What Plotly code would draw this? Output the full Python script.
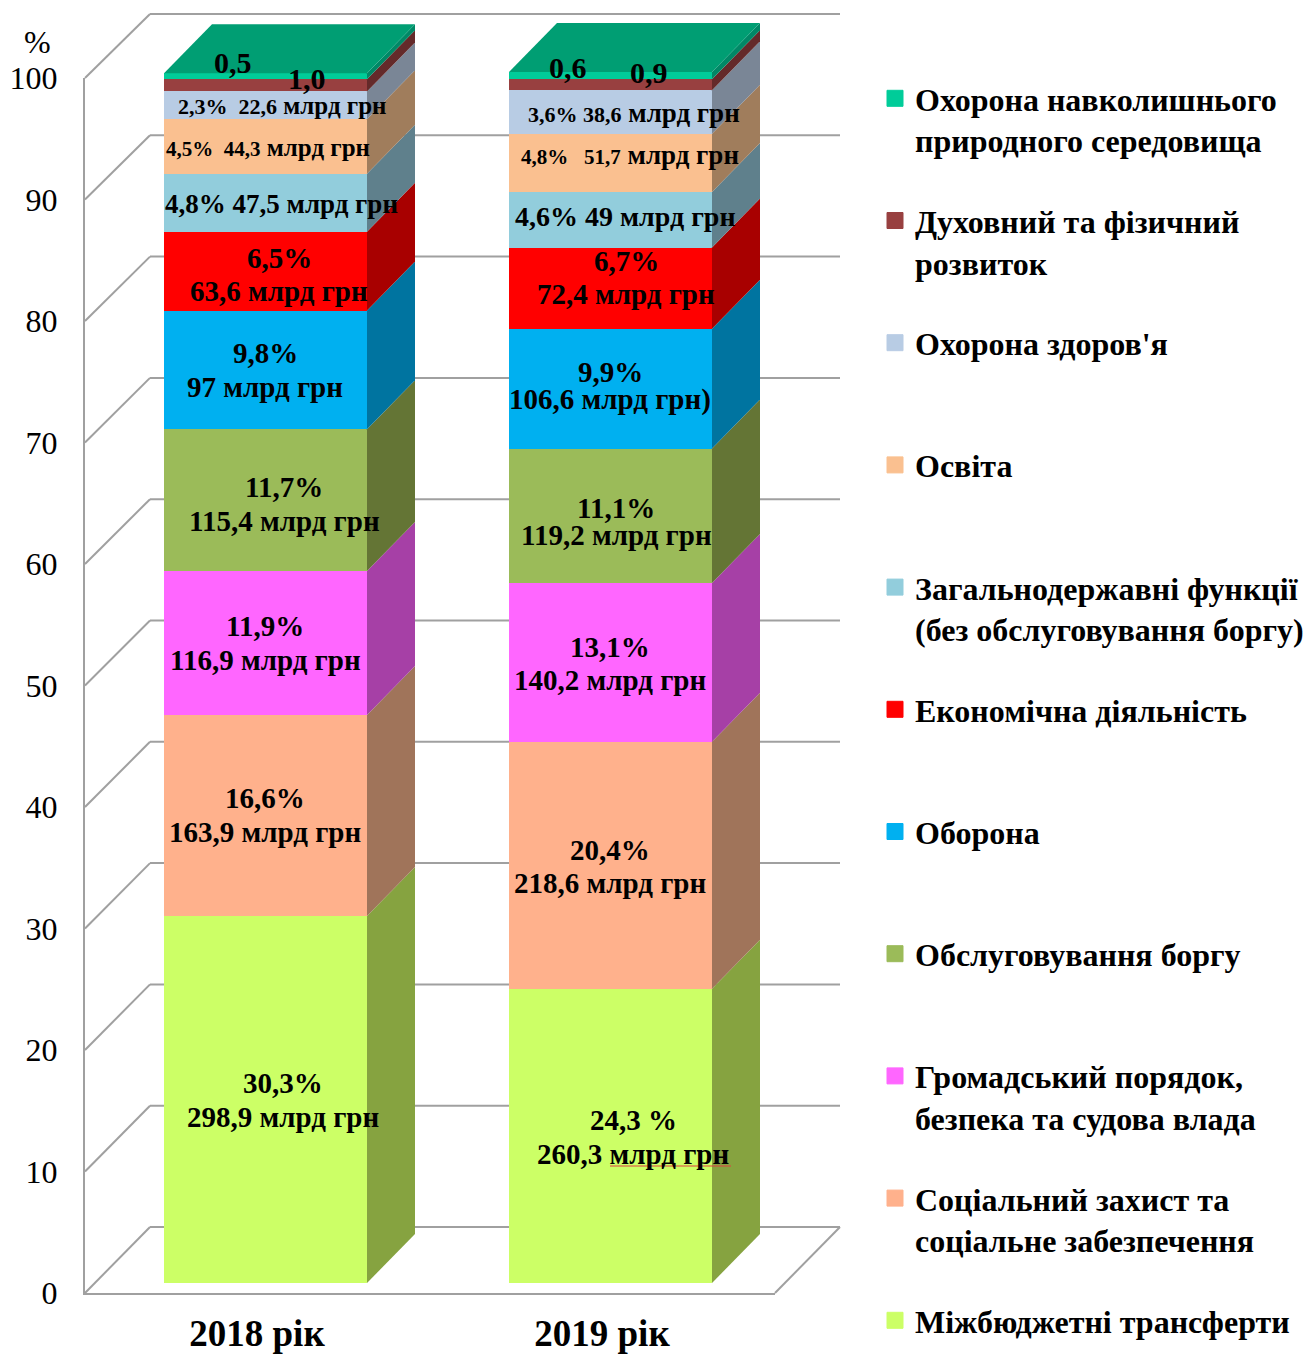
import plotly.graph_objects as go

# ---------- data ----------
years = ["2018 рік", "2019 рік"]
series_names = [
    "Міжбюджетні трансферти<br> ",
    "Соціальний захист та<br>соціальне забезпечення",
    "Громадський порядок,<br>безпека та судова влада",
    "Обслуговування боргу<br> ",
    "Оборона<br> ",
    "Економічна діяльність<br> ",
    "Загальнодержавні функції<br>(без обслуговування боргу)",
    "Освіта<br> ",
    "Охорона здоров'я<br> ",
    "Духовний та фізичний<br>розвиток",
    "Охорона навколишнього<br>природного середовища",
]
values_2018 = [30.3, 16.6, 11.9, 11.7, 9.8, 6.5, 4.8, 4.5, 2.3, 1.0, 0.5]
values_2019 = [24.3, 20.4, 13.1, 11.1, 9.9, 6.7, 4.6, 4.8, 3.6, 0.9, 0.6]
front_colors = ["#CCFF66", "#FFB18C", "#FF66FF", "#9BBB59", "#00B0F0", "#FF0000",
                "#92CDDC", "#FAC090", "#B8CCE4", "#984040", "#00CC99"]
side_colors = ["#86A340", "#A0745A", "#A640A6", "#647535", "#0074A0", "#A80000",
               "#5F808C", "#A07D5C", "#7A8696", "#642A2A", "#008866"]
top_color = "#009E73"
tick_values = list(range(0, 101, 10))

SM = '<span style="font-size:21px">%s</span>'
SM2 = '<span style="font-size:22px">%s</span>'
labels_2018 = [
    ("30,3%", 283, 1083, 29), ("298,9 млрд грн", 283, 1117, 29),
    ("16,6%", 265, 798, 29), ("163,9 млрд грн", 265, 832, 29),
    ("11,9%", 265, 626, 29), ("116,9 млрд грн", 265, 660, 29),
    ("11,7%", 284, 487, 29), ("115,4 млрд грн", 284, 521, 29),
    ("9,8%", 265, 353, 29), ("97 млрд грн", 265, 387, 29),
    ("6,5%", 279, 258, 29), ("63,6 млрд грн", 279, 291, 29),
    ("4,8% 47,5 млрд грн", 281, 204, 27),
    (SM % "4,5%  44,3" + " млрд грн", 268, 147, 25),
    (SM2 % "2,3%  22,6" + " млрд грн", 282, 105, 25),
    ("1,0", 307, 78, 30), ("0,5", 233, 62, 30),
]
labels_2019 = [
    ("24,3 %", 633, 1120, 29), ("260,3 млрд грн", 633, 1154, 29),
    ("20,4%", 610, 850, 29), ("218,6 млрд грн", 610, 883, 29),
    ("13,1%", 610, 647, 29), ("140,2 млрд грн", 610, 680, 29),
    ("11,1%", 616, 508, 29), ("119,2 млрд грн", 616, 535, 29),
    ("9,9%", 610, 372, 29), ("106,6 млрд грн)", 610, 399, 29),
    ("6,7%", 626, 261, 29), ("72,4 млрд грн", 626, 294, 29),
    ("4,6% 49 млрд грн", 625, 216, 28),
    (SM % "4,8%   51,7" + " млрд грн", 630, 155, 27),
    (SM2 % "3,6% 38,6" + " млрд грн", 634, 113, 27),
    ("0,9", 649, 72, 30), ("0,6", 568, 67, 30),
]

# ---------- layout geometry (page pixels) ----------
W, H = 1305, 1355
BAR0_PX, PX_PER_CAT = 265.5, 345.0
BASE_PX, PX_PER_PCT = 1283.0, 12.11
BAR_W_PX = 203.0
DEPTH_X, DEPTH_Y = 48.0, 49.0
FONT = "Liberation Serif"

def fx(px):
    return (px - BAR0_PX) / PX_PER_CAT

def fy(py):
    return (BASE_PX - py) / PX_PER_PCT

half = BAR_W_PX / PX_PER_CAT / 2
dx = DEPTH_X / PX_PER_CAT
dy = DEPTH_Y / PX_PER_PCT

fig = go.Figure()

# stacked front faces
for i, name in enumerate(series_names):
    fig.add_trace(go.Bar(
        x=[0, 1], y=[values_2018[i], values_2019[i]],
        width=BAR_W_PX / PX_PER_CAT, name=name.replace("<br> ", ""), showlegend=False,
        marker=dict(color=front_colors[i], line=dict(width=0)),
        hoverinfo="y+name",
    ))

# side and top faces, derived from the cumulative values
for pos, vals in enumerate([values_2018, values_2019]):
    cum = 0.0
    r = pos + half
    for i, v in enumerate(vals):
        a, b = cum, cum + v
        fig.add_trace(go.Scatter(
            x=[r, r + dx, r + dx, r, r], y=[a, a + dy, b + dy, b, a],
            mode="lines", fill="toself", fillcolor=side_colors[i],
            line=dict(width=0), showlegend=False, hoverinfo="skip",
        ))
        cum = b
    fig.add_trace(go.Scatter(
        x=[pos - half, pos + half, r + dx, pos - half + dx, pos - half],
        y=[cum, cum, cum + dy, cum + dy, cum],
        mode="lines", fill="toself", fillcolor=top_color,
        line=dict(width=0), showlegend=False, hoverinfo="skip",
    ))

# legend entries (square swatches), top series first
for i in reversed(range(len(series_names))):
    fig.add_trace(go.Scatter(
        x=[None], y=[None], mode="markers", name=series_names[i], legendgroup=series_names[i],
        marker=dict(symbol="square", size=16, color=front_colors[i],
                    line=dict(color=front_colors[i], width=1)),
        hoverinfo="skip",
    ))

# invisible trace that brings the front axes (x2/y2) to life
fig.add_trace(go.Scatter(x=[0, 1], y=[0, 100], xaxis="x2", yaxis="y2", mode="markers",
                         marker=dict(opacity=0), showlegend=False, hoverinfo="skip"))

# walls
GRID = "#A0A0A0"
AXIS_L, AXIS_R, AXIS_B, AXIS_T = 85.0, 775.0, 1293.0, 78.0
WALL_L, WALL_R, WALL_B, WALL_T = 150.0, 840.0, 1227.0, 14.0
shapes = []
for t in tick_values:
    y_front = AXIS_B + (AXIS_T - AXIS_B) * t / 100
    y_back = WALL_B + (WALL_T - WALL_B) * t / 100
    for (x0, y0, x1, y1) in [(AXIS_L, y_front, WALL_L, y_back), (WALL_L, y_back, WALL_R, y_back)]:
        shapes.append(dict(type="line", xref="x", yref="y", layer="below",
                           x0=fx(x0), y0=fy(y0), x1=fx(x1), y1=fy(y1),
                           line=dict(color=GRID, width=2)))
shapes.append(dict(type="line", xref="x", yref="y", layer="below",
                   x0=fx(AXIS_R), y0=fy(AXIS_B), x1=fx(WALL_R), y1=fy(WALL_B),
                   line=dict(color=GRID, width=2)))
shapes.append(dict(type="line", xref="x", yref="y", layer="above",
                   x0=fx(610), y0=fy(1166), x1=fx(731), y1=fy(1166),
                   line=dict(color="#E04040", width=1)))

annotations = []
for text, px, py, size in labels_2018 + labels_2019:
    annotations.append(dict(text="<b>%s</b>" % text, x=fx(px), y=fy(py), xref="x", yref="y",
                            showarrow=False, xanchor="center", yanchor="middle",
                            font=dict(family=FONT, size=size, color="black")))
annotations.append(dict(text="%", x=37 / W, y=1 - 42 / H, xref="paper", yref="paper",
                        xanchor="center", yanchor="middle",
                        showarrow=False, font=dict(family=FONT, size=32, color="black")))

ax_x0 = (BAR0_PX - 8.5 - AXIS_L) / PX_PER_CAT

fig.update_layout(
    width=W, height=H, autosize=False,
    margin=dict(l=0, r=0, t=0, b=0, autoexpand=False),
    paper_bgcolor="white", plot_bgcolor="rgba(0,0,0,0)",
    barmode="stack", bargap=0,
    font=dict(family=FONT, color="black"),
    shapes=shapes, annotations=annotations,
    xaxis=dict(domain=[0, 1], range=[fx(0), fx(W)], visible=False, fixedrange=True),
    yaxis=dict(domain=[0, 1], range=[fy(H), fy(0)], visible=False, fixedrange=True),
    xaxis2=dict(domain=[AXIS_L / W, AXIS_R / W], anchor="y2",
                range=[-ax_x0, (AXIS_R - AXIS_L) / PX_PER_CAT - ax_x0],
                tickvals=[0, 1], ticktext=["<b>%s</b>" % y for y in years],
                tickfont=dict(family=FONT, size=37, color="black"),
                ticklabelstandoff=7,
                showgrid=False, zeroline=False, showline=True, linecolor=GRID, linewidth=2,
                ticks="", fixedrange=True),
    yaxis2=dict(domain=[1 - AXIS_B / H, 1 - AXIS_T / H], anchor="x2", range=[0, 100],
                tickvals=tick_values, tickfont=dict(family=FONT, size=32, color="black"),
                ticklabelstandoff=19,
                showgrid=False, zeroline=False, showline=True, linecolor=GRID, linewidth=2,
                ticks="", fixedrange=True),
    legend=dict(x=875 / W, y=1 - 71 / H, xanchor="left", yanchor="top",
                traceorder="grouped", tracegroupgap=36, itemsizing="trace", valign="top",
                maxheight=1340,
                font=dict(family=FONT, size=32, color="black", weight="bold"),
                bgcolor="rgba(0,0,0,0)", itemclick=False, itemdoubleclick=False),
    hovermode="closest",
)

fig.write_html("out.html", config={"displayModeBar": False},
               post_script="document.body.style.margin='0';")
